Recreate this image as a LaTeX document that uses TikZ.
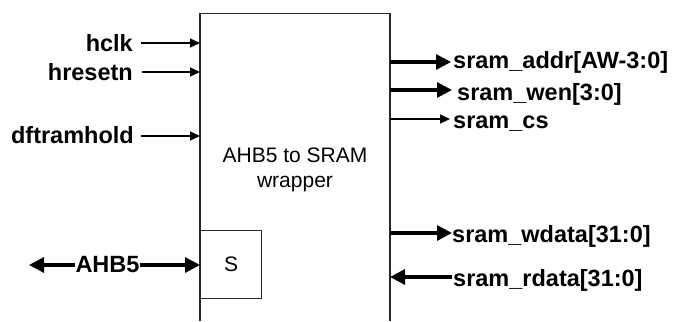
\documentclass[tikz,border=0pt]{standalone}
\usepackage{fontspec}
\setmainfont{Liberation Sans}
\usetikzlibrary{arrows.meta}
\tikzset{
  lbl/.style={inner sep=0pt, font=\fontsize{23.5}{26}\selectfont\bfseries},
  thin/.style={line width=1.3pt, -{Triangle[length=10pt,width=9pt]}},
  thick/.style={line width=3.2pt, -{Triangle[length=15pt,width=15pt]}},
  boxline/.style={line width=1.4pt, draw=black!85},
}
\begin{document}
\begin{tikzpicture}[x=1pt,y=-1pt]
\useasboundingbox (0,0) rectangle (674,321);
% main block (open at the bottom)
\draw[boxline] (200,321) -- (200,13.5) -- (390,13.5) -- (390,321);
\node[inner sep=0pt, align=center, font=\fontsize{21}{25}\selectfont] (title) at (295,170) {AHB5 to SRAM\\wrapper};
\node[draw=black!85, line width=1.1pt, minimum width=61pt, minimum height=68pt, inner sep=0pt, anchor=north west, font=\fontsize{21}{25}\selectfont] (s) at (200,230) {S};
% pins on the block
\coordinate (pclk) at (200,43);
\coordinate (prst) at (200,72);
\coordinate (phold) at (200,136);
\coordinate (pahb) at (200,265);
\coordinate (paddr) at (390,62);
\coordinate (pwen) at (390,90);
\coordinate (pcs) at (390,119);
\coordinate (pwdata) at (390,233);
\coordinate (prdata) at (390,277);
\coordinate (ahbend) at (29,265);
% labels
\node[lbl, anchor=base east] (hclk) at (133,52) {hclk};
\node[lbl, anchor=base east] (hresetn) at (133,80) {hresetn};
\node[lbl, anchor=base east] (dft) at (134,143) {dftramhold};
\node[lbl, anchor=base] (ahb) at (107.5,272) {AHB5};
\node[lbl, anchor=base west] (addr) at (453,68) {sram\_addr[AW-3:0]};
\node[lbl, anchor=base west] (wen) at (457,100) {sram\_wen[3:0]};
\node[lbl, anchor=base west] (cs) at (453,128) {sram\_cs};
\node[lbl, anchor=base west] (wdata) at (452,242) {sram\_wdata[31:0]};
\node[lbl, anchor=base west] (rdata) at (453,286) {sram\_rdata[31:0]};
% connectors
\draw[thin, shorten <=8pt] (hclk.east |- pclk) -- (pclk);
\draw[thin, shorten <=9pt] (hresetn.east |- prst) -- (prst);
\draw[thin, shorten <=7pt] (dft.east |- phold) -- (phold);
\draw[thick] (ahb.west |- ahbend) -- (ahbend);
\draw[thick] (ahb.east |- pahb) -- (pahb);
\draw[thick, shorten >=2pt] (paddr) -- (addr.west |- paddr);
\draw[thick, shorten >=5pt] (pwen) -- (wen.west |- pwen);
\draw[thin, shorten >=3pt] (pcs) -- (cs.west |- pcs);
\draw[thick] (pwdata) -- (wdata.west |- pwdata);
\draw[thick, shorten <=1pt] (rdata.west |- prdata) -- (prdata);
\end{tikzpicture}
\end{document}
